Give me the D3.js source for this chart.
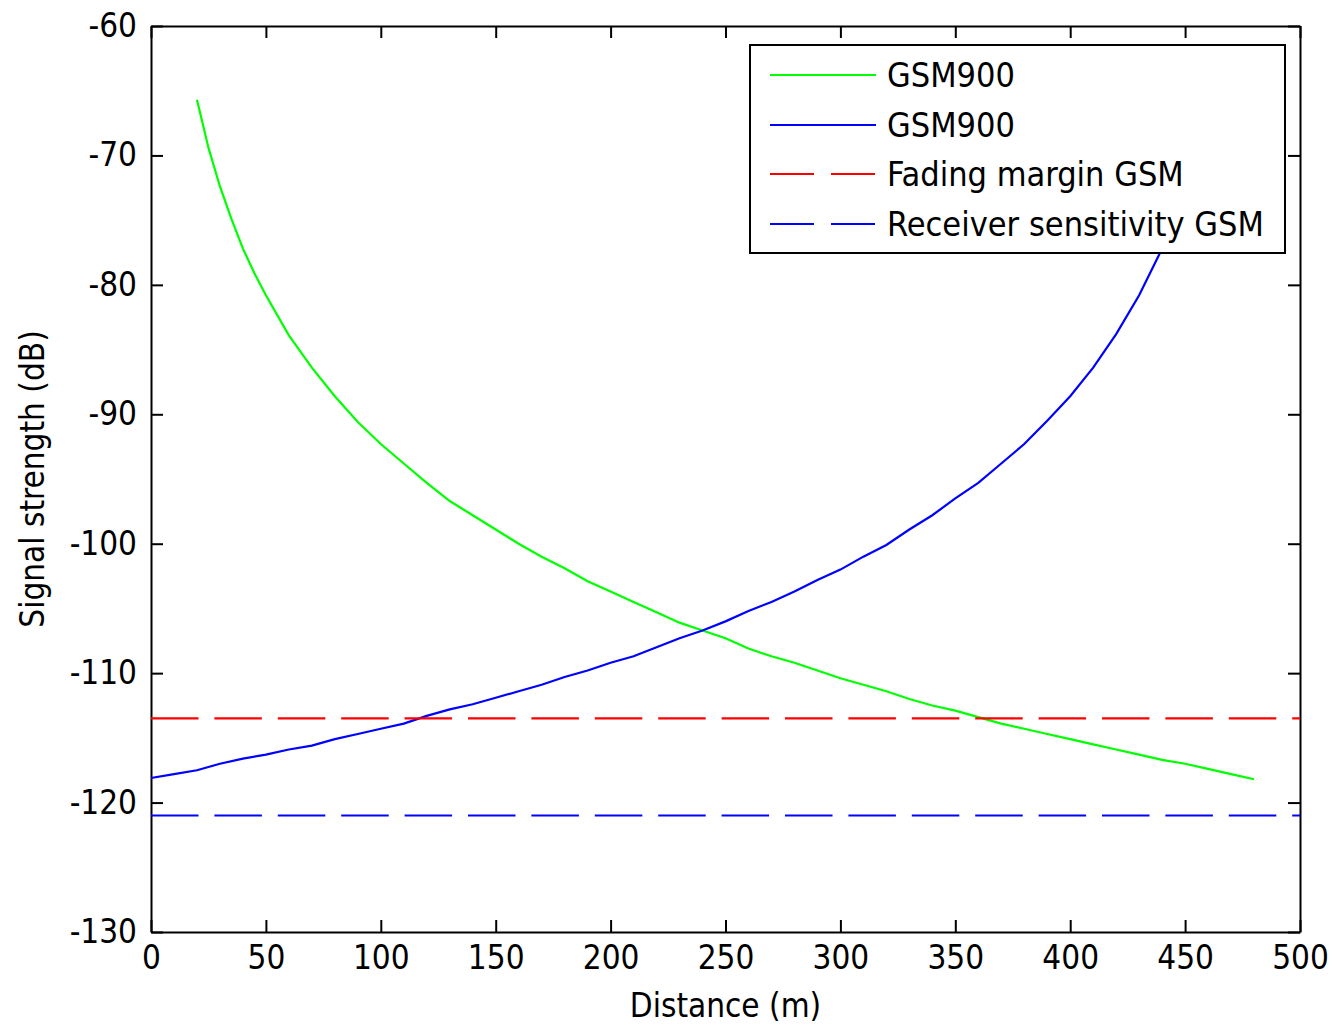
<!DOCTYPE html>
<html><head><meta charset="utf-8">
<script src="https://cdn.jsdelivr.net/npm/d3@7"></script>
<style>
html,body{margin:0;padding:0;background:#fff;}
text{font-family:"Liberation Sans Narrow","DejaVu Sans Condensed","Liberation Sans",Arial,sans-serif;}
</style></head>
<body><svg id="c" width="1332" height="1026"></svg>
<script>
const xTicks = [0,50,100,150,200,250,300,350,400,450,500];
const yTicks = [-130,-120,-110,-100,-90,-80,-70,-60];

const greenDist = [20,25,30,35,40,45,50,60,70,80,90,100,110,120,130,140,150,160,170,180,190,200,210,220,230,240,250,260,270,280,290,300,310,320,330,340,350,360,370,380,390,400,410,420,430,440,450,460,470,480];
const greenSignal = [-65.7,-69.4,-72.4,-74.9,-77.2,-79.1,-80.8,-83.9,-86.4,-88.6,-90.6,-92.3,-93.8,-95.3,-96.7,-97.8,-98.9,-100.0,-101.0,-101.9,-102.9,-103.7,-104.5,-105.3,-106.1,-106.7,-107.3,-108.1,-108.7,-109.2,-109.8,-110.4,-110.9,-111.4,-112.0,-112.5,-112.9,-113.4,-113.9,-114.3,-114.7,-115.1,-115.5,-115.9,-116.3,-116.7,-117.0,-117.4,-117.8,-118.2];

const blueDist = [0,10,20,30,40,50,60,70,80,90,100,110,120,130,140,150,160,170,180,190,200,210,220,230,240,250,260,270,280,290,300,310,320,330,340,350,360,370,380,390,400,410,420,430,440,450,460];
const blueSignal = [-118.1,-117.8,-117.5,-117.0,-116.6,-116.3,-115.9,-115.6,-115.1,-114.7,-114.3,-113.9,-113.3,-112.8,-112.4,-111.9,-111.4,-110.9,-110.3,-109.8,-109.2,-108.7,-108.0,-107.3,-106.7,-106.0,-105.2,-104.5,-103.7,-102.8,-102.0,-101.0,-100.1,-98.9,-97.8,-96.5,-95.3,-93.8,-92.3,-90.5,-88.6,-86.4,-83.8,-80.8,-77.2,-72.4,-65.7];

const fadingMargin = -113.5;
const receiverSensitivity = -121;

const legendLabels = ["GSM900","GSM900","Fading margin GSM","Receiver sensitivity GSM"];
const legendColors = ["#00ff00","#0000ff","#ff0000","#0000ff"];
const legendDashed = [false,false,true,true];

const svg = d3.select("#c");
const L=151,R=1300,T=26,B=932;
const x = d3.scaleLinear().domain([0,500]).range([L,R]);
const y = d3.scaleLinear().domain([-130,-60]).range([B,T]);
const FS = 33;

function styleAxis(g){
  g.selectAll("path").attr("stroke","#000").attr("stroke-width",2);
  g.selectAll("line").attr("stroke","#000").attr("stroke-width",2);
  g.selectAll("text").attr("font-size",FS).attr("fill","#000");
}
const fmt = d => String(d);
svg.append("g").attr("transform",`translate(0,${B})`)
  .call(d3.axisBottom(x).tickValues(xTicks).tickFormat(fmt).tickSizeInner(-12).tickSizeOuter(0).tickPadding(14))
  .call(styleAxis);
svg.append("g").attr("transform",`translate(0,${T})`)
  .call(d3.axisTop(x).tickValues(xTicks).tickFormat("").tickSizeInner(-12).tickSizeOuter(0))
  .call(styleAxis);
svg.append("g").attr("transform",`translate(${L},0)`)
  .call(d3.axisLeft(y).tickValues(yTicks).tickFormat(fmt).tickSizeInner(-12).tickSizeOuter(0).tickPadding(14))
  .call(styleAxis);
svg.append("g").attr("transform",`translate(${R},0)`)
  .call(d3.axisRight(y).tickValues(yTicks).tickFormat("").tickSizeInner(-12).tickSizeOuter(0))
  .call(styleAxis);

const line = d3.line().x(d=>x(d[0])).y(d=>y(d[1]));
const dash = "47.5,15.9";

svg.append("path").datum(greenDist.map((d,i)=>[d,greenSignal[i]]))
  .attr("d",line).attr("fill","none").attr("stroke","#00ff00").attr("stroke-width",2.2);
svg.append("path").datum(blueDist.map((d,i)=>[d,blueSignal[i]]))
  .attr("d",line).attr("fill","none").attr("stroke","#0000ff").attr("stroke-width",2.2);
svg.append("path").datum([[0,fadingMargin],[500,fadingMargin]])
  .attr("d",line).attr("fill","none").attr("stroke","#ff0000").attr("stroke-width",2.2).attr("stroke-dasharray",dash);
svg.append("path").datum([[0,receiverSensitivity],[500,receiverSensitivity]])
  .attr("d",line).attr("fill","none").attr("stroke","#0000ff").attr("stroke-width",2.2).attr("stroke-dasharray",dash);

// axis labels
svg.append("text").attr("x",(L+R)/2).attr("y",1017).attr("text-anchor","middle").attr("font-size",FS).text("Distance (m)");
svg.append("text").attr("transform",`translate(44,${(T+B)/2}) rotate(-90)`).attr("text-anchor","middle").attr("font-size",FS).text("Signal strength (dB)");

// legend
const lg = svg.append("g");
lg.append("rect").attr("x",750).attr("y",45).attr("width",535).attr("height",208)
  .attr("fill","#fff").attr("stroke","#000").attr("stroke-width",2);
const rowY = [75,125,174,224];
legendLabels.forEach((lab,i)=>{
  lg.append("line").attr("x1",770).attr("x2",876).attr("y1",rowY[i]).attr("y2",rowY[i])
    .attr("stroke",legendColors[i]).attr("stroke-width",2.2)
    .attr("stroke-dasharray",legendDashed[i]?"44,17":null);
  lg.append("text").attr("x",887).attr("y",rowY[i]).attr("dy","0.36em").attr("font-size",34).text(lab);
});
</script></body></html>
